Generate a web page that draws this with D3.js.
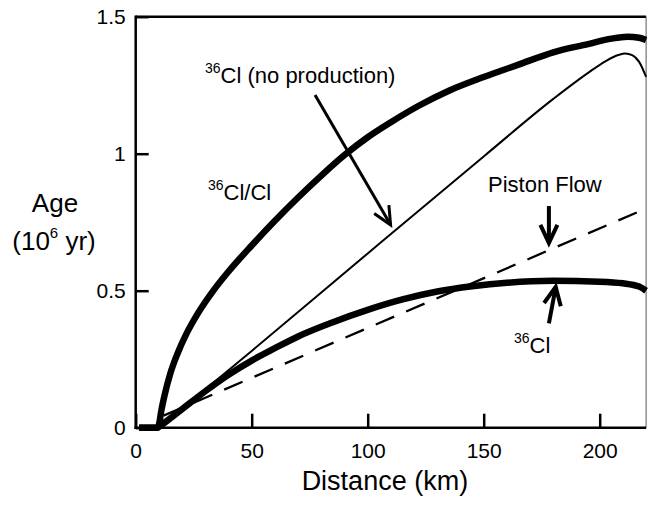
<!DOCTYPE html>
<html>
<head>
<meta charset="utf-8">
<script src="https://cdn.jsdelivr.net/npm/d3@7/dist/d3.min.js"></script>
<style>
  html, body { margin: 0; padding: 0; background: #fff; }
  svg { display: block; font-family: "Liberation Sans", Arial, Helvetica, sans-serif; }
</style>
</head>
<body>
<svg id="chart" width="648" height="506"></svg>
<script>
// Groundwater age vs. distance along the flow path

// 36Cl/Cl ratio age
const ratioKm  = [1.5, 9.5, 10, 11, 12.5, 15, 18, 22, 27, 33, 40, 50, 60, 70, 80, 90, 100, 110, 122, 135, 150, 165, 180, 195, 205, 212, 217, 220];
const ratioAge = [0, 0, 0.01, 0.06, 0.12, 0.2, 0.27, 0.345, 0.42, 0.495, 0.57, 0.665, 0.755, 0.84, 0.92, 0.995, 1.06, 1.115, 1.175, 1.23, 1.28, 1.325, 1.37, 1.40, 1.42, 1.427, 1.423, 1.415];

// 36Cl age, no subsurface production
const noProdKm  = [10, 50, 100, 150, 180, 195, 203, 208, 211, 214, 217, 220];
const noProdAge = [0, 0.28, 0.636, 0.99, 1.2, 1.295, 1.34, 1.36, 1.366, 1.36, 1.335, 1.28];

// 36Cl age
const cl36Km  = [1.5, 9.5, 10, 20, 30, 40, 50, 60, 70, 85, 100, 115, 130, 145, 160, 180, 200, 210, 217, 220];
const cl36Age = [0, 0, 0.003, 0.068, 0.133, 0.193, 0.245, 0.29, 0.333, 0.385, 0.43, 0.468, 0.497, 0.516, 0.529, 0.536, 0.533, 0.527, 0.515, 0.5];

// Piston flow age
const pistonKm  = [12, 220];
const pistonAge = [0.044, 0.80];

const xTicks = [0, 50, 100, 150, 200];
const yTicks = [0, 0.5, 1, 1.5];
const yTickLabels = ["0", "0.5", "1", "1.5"];

(function draw() {
  const svg = d3.select("#chart");
  const plotLeft = 135.7, plotRight = 646.1, plotTop = 16.7, plotBottom = 427.7;

  const x = d3.scaleLinear().domain([0, 220]).range([plotLeft, plotRight]);
  const y = d3.scaleLinear().domain([0, 1.5]).range([plotBottom, plotTop]);

  const zip = (xs, ys) => xs.map((v, i) => [v, ys[i]]);
  const line = d3.line().x(d => x(d[0])).y(d => y(d[1])).curve(d3.curveMonotoneX);

  // frame: top and right borders
  svg.append("line").attr("x1", plotLeft).attr("x2", plotRight).attr("y1", plotTop).attr("y2", plotTop)
    .attr("stroke", "#000").attr("stroke-width", 2.5);
  svg.append("line").attr("x1", plotRight).attr("x2", plotRight).attr("y1", plotTop).attr("y2", plotBottom)
    .attr("stroke", "#555").attr("stroke-width", 1);

  // axes with inward ticks
  const xAxis = d3.axisBottom(x).tickValues(xTicks).tickFormat(d3.format("d"))
    .tickSizeInner(-14).tickSizeOuter(0).tickPadding(15);
  const yAxis = d3.axisLeft(y).tickValues(yTicks).tickFormat((d, i) => yTickLabels[i])
    .tickSizeInner(-13).tickSizeOuter(0).tickPadding(10);

  const gx = svg.append("g").attr("transform", `translate(0,${plotBottom})`).call(xAxis);
  const gy = svg.append("g").attr("transform", `translate(${plotLeft},0)`).call(yAxis);
  [gx, gy].forEach(g => {
    g.select(".domain").attr("stroke", "#000").attr("stroke-width", 2.5);
    g.selectAll(".tick line").attr("stroke", "#000").attr("stroke-width", 2.5);
    g.selectAll(".tick text").attr("fill", "#000").attr("font-size", 21)
      .attr("font-family", "'Liberation Sans', Arial, sans-serif");
  });
  gx.select(".domain").attr("d", `M${plotLeft - 1.25},0H${plotRight}`);
  gy.select(".domain").attr("d", `M0,${plotBottom + 1.25}V${plotTop - 1.25}`);

  // curves
  svg.append("path").datum(zip(pistonKm, pistonAge)).attr("d", line)
    .attr("fill", "none").attr("stroke", "#000").attr("stroke-width", 2.3)
    .attr("stroke-dasharray", "20,13");
  svg.append("path").datum(zip(noProdKm, noProdAge)).attr("d", line)
    .attr("fill", "none").attr("stroke", "#000").attr("stroke-width", 2);
  svg.append("path").datum(zip(cl36Km, cl36Age)).attr("d", line)
    .attr("fill", "none").attr("stroke", "#000").attr("stroke-width", 6.5);
  svg.append("path").datum(zip(ratioKm, ratioAge)).attr("d", line)
    .attr("fill", "none").attr("stroke", "#000").attr("stroke-width", 6.5);

  // annotation arrows, tail -> tip in data units
  const arrows = [
    { tail: [77.3, 1.214], tip: [110.3, 0.734], w: 3 },
    { tail: [178.1, 0.809], tip: [178.1, 0.667], w: 4 },
    { tail: [178.1, 0.381], tip: [181.2, 0.521], w: 4 }
  ];
  arrows.forEach(a => {
    const x0 = x(a.tail[0]), y0 = y(a.tail[1]), x1 = x(a.tip[0]), y1 = y(a.tip[1]);
    const len = Math.hypot(x1 - x0, y1 - y0);
    const ux = (x1 - x0) / len, uy = (y1 - y0) / len;
    const px = -uy, py = ux;
    const back = 18, half = 8.5;
    const tx = x1 - ux * 2, ty = y1 - uy * 2;
    svg.append("line").attr("x1", x0).attr("y1", y0).attr("x2", tx).attr("y2", ty)
      .attr("stroke", "#000").attr("stroke-width", a.w);
    svg.append("path")
      .attr("d", `M${tx - ux * back + px * half},${ty - uy * back + py * half}L${tx},${ty}L${tx - ux * back - px * half},${ty - uy * back - py * half}`)
      .attr("fill", "none").attr("stroke", "#000").attr("stroke-width", a.w)
      .attr("stroke-linejoin", "miter");
  });

  // annotation labels: [superscript, main text, x, baseline]
  const labels = [
    ["36", "Cl (no production)", 205, 83],
    ["36", "Cl/Cl", 208, 200],
    ["", "Piston Flow", 488, 191.7],
    ["36", "Cl", 514, 353]
  ];
  labels.forEach(([sup, main, lx, ly]) => {
    const t = svg.append("text").attr("x", lx).attr("y", ly).attr("font-size", 22).attr("fill", "#000");
    if (sup) {
      t.append("tspan").attr("font-size", 14).attr("dy", -10).text(sup);
      t.append("tspan").attr("dy", 10).text(main);
    } else {
      t.text(main);
    }
  });

  // axis titles
  svg.append("text").attr("x", (plotLeft + plotRight) / 2 - 6).attr("y", 490).attr("text-anchor", "middle")
    .attr("font-size", 27).attr("fill", "#000").text("Distance (km)");
  svg.append("text").attr("x", 55).attr("y", 211.7).attr("text-anchor", "middle")
    .attr("font-size", 26).attr("fill", "#000").text("Age");
  const yt = svg.append("text").attr("x", 54).attr("y", 250).attr("text-anchor", "middle")
    .attr("font-size", 26).attr("fill", "#000");
  yt.append("tspan").text("(10");
  yt.append("tspan").attr("font-size", 15).attr("dy", -12).text("6");
  yt.append("tspan").attr("dy", 12).text(" yr)");
})();
</script>
</body>
</html>
